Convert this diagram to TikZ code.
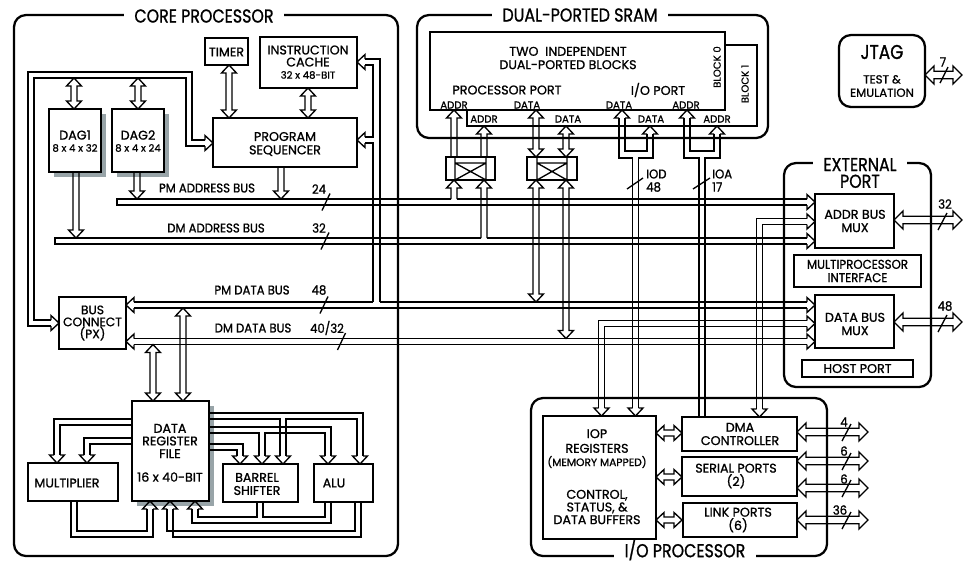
\documentclass[tikz,border=0pt]{standalone}
\usepackage{fontspec}
\setmainfont{Poppins}[FakeBold=1]
\newfontfamily\ttlfont{Poppins}[FakeStretch=0.85, FakeBold=1]
\newfontfamily\cndfont{Poppins}[FakeStretch=0.92, FakeBold=1]
\usetikzlibrary{fit}
\definecolor{shad}{HTML}{98A4A8}
\newcommand{\aSW}{3}
\newcommand{\aHW}{7.5}
\newcommand{\aHL}{8}
\newcommand{\VAboth}[3]{\draw[arr] (#1-\aSW,#2+\aHL) -- (#1-\aHW,#2+\aHL) -- (#1,#2) -- (#1+\aHW,#2+\aHL) -- (#1+\aSW,#2+\aHL) -- (#1+\aSW,#3-\aHL) -- (#1+\aHW,#3-\aHL) -- (#1,#3) -- (#1-\aHW,#3-\aHL) -- (#1-\aSW,#3-\aHL) -- cycle;}
\newcommand{\VAup}[3]{\draw[arr] (#1-\aSW,#3) -- (#1-\aSW,#2+\aHL) -- (#1-\aHW,#2+\aHL) -- (#1,#2) -- (#1+\aHW,#2+\aHL) -- (#1+\aSW,#2+\aHL) -- (#1+\aSW,#3);}
\newcommand{\VAdown}[3]{\draw[arr] (#1-\aSW,#2) -- (#1-\aSW,#3-\aHL) -- (#1-\aHW,#3-\aHL) -- (#1,#3) -- (#1+\aHW,#3-\aHL) -- (#1+\aSW,#3-\aHL) -- (#1+\aSW,#2);}
\newcommand{\HAboth}[3]{\draw[arr] (#2+\aHL,#1-\aSW) -- (#2+\aHL,#1-\aHW) -- (#2,#1) -- (#2+\aHL,#1+\aHW) -- (#2+\aHL,#1+\aSW) -- (#3-\aHL,#1+\aSW) -- (#3-\aHL,#1+\aHW) -- (#3,#1) -- (#3-\aHL,#1-\aHW) -- (#3-\aHL,#1-\aSW) -- cycle;}
\newcommand{\headR}[2]{\draw[arr] (#1-\aHL,#2-\aSW) -- (#1-\aHL,#2-\aHW) -- (#1,#2) -- (#1-\aHL,#2+\aHW) -- (#1-\aHL,#2+\aSW);}
\newcommand{\headL}[2]{\draw[arr] (#1+\aHL,#2-\aSW) -- (#1+\aHL,#2-\aHW) -- (#1,#2) -- (#1+\aHL,#2+\aHW) -- (#1+\aHL,#2+\aSW);}
\newcommand{\headU}[2]{\draw[arr] (#1-\aSW,#2+\aHL) -- (#1-\aHW,#2+\aHL) -- (#1,#2) -- (#1+\aHW,#2+\aHL) -- (#1+\aSW,#2+\aHL);}
\newcommand{\headD}[2]{\draw[arr] (#1-\aSW,#2-\aHL) -- (#1-\aHW,#2-\aHL) -- (#1,#2) -- (#1+\aHW,#2-\aHL) -- (#1+\aSW,#2-\aHL);}
\newcommand{\slsh}[2]{\draw[arr] (#1-4,#2+8.5) -- (#1+4,#2-8.5);}
\newcommand{\bigarrows}{\renewcommand{\aSW}{3.8}\renewcommand{\aHW}{9}\renewcommand{\aHL}{9}}
\begin{document}
\begin{tikzpicture}[x=0.75pt,y=-0.75pt,
 arr/.style={line width=1pt, line join=miter},
 blk/.style={draw, line width=1.1pt, fill=white, inner sep=0pt},
 frm/.style={draw, line width=1.7pt, rounded corners=9pt},
 lab/.style={inner sep=0pt, align=center, font=\fontsize{9.5}{11}\selectfont},
 sml/.style={inner sep=0pt, align=center, font=\fontsize{7.6}{8.5}\selectfont},
 blab/.style={inner sep=0pt, font=\cndfont\fontsize{9.5}{10}\selectfont},
 ttl/.style={fill=white, inner xsep=8pt, inner ysep=1pt, align=center, font=\ttlfont\fontsize{14}{13.5}\selectfont}]
\useasboundingbox (0,0) rectangle (964,562);
\fill[white] (0,0) rectangle (964,562);

% ---------- frames ----------
\draw[frm] (14,15) rectangle (398,556);
\draw[frm] (417,15) rectangle (768,138);
\draw[frm] (784,163) rectangle (931,387);
\draw[frm] (531,398) rectangle (827,556);
\draw[frm] (839,35) rectangle (925,107);
\node[ttl] (tcore) at (204,16) {CORE PROCESSOR};
\node[ttl] (tsram) at (580,15) {DUAL-PORTED SRAM};
\node[ttl, inner ysep=4pt] (text) at (860,173) {EXTERNAL\\[-1pt]PORT};
\node[ttl] (tio) at (685,550) {I/O PROCESSOR};

% ---------- JTAG ----------
\node[inner sep=0pt, font=\ttlfont\fontsize{15}{15}\selectfont] (jtag) at (882,52) {JTAG};
\node[sml, font=\fontsize{8.8}{10}\selectfont] (jtag2) at (882,86) {TEST \&\\EMULATION};

% ---------- core boxes ----------
\fill[shad] (54,114) rectangle (106,177);
\fill[shad] (117,114) rectangle (169,177);
\fill[shad] (137,406) rectangle (214,506);
\node[blk, fit={(205,38) (248,65)}] (timer) {};
\node[blk, fit={(260,37) (357,88)}] (cache) {};
\node[blk, fit={(213,118) (357,167)}] (seq) {};
\node[blk, fit={(49,109) (101,172)}] (dag1) {};
\node[blk, fit={(112,109) (164,172)}] (dag2) {};
\node[blk, fit={(59,297) (126,349)}] (bc) {};
\node[blk, fit={(132,401) (209,501)}] (rf) {};
\node[blk, fit={(28,463) (118,501)}] (mult) {};
\node[blk, fit={(223,464) (298,502)}] (shift) {};
\node[blk, fit={(314,464) (373,502)}] (alu) {};

\node[lab] (tTimer) at (226.5,52) {TIMER};
\node[lab] (tCache1) at (308,50) {INSTRUCTION};
\node[lab] (tCache2) at (308,62) {CACHE};
\node[sml] (tCache3) at (308,75) {32 x 48-BIT};
\node[lab, font=\fontsize{9.5}{10}\selectfont] (tSeq) at (285,144) {PROGRAM\\SEQUENCER};
\node[lab] (tD1) at (75,135) {DAG1};
\node[sml] (tD1b) at (75,148) {8 x 4 x 32};
\node[lab] (tD2) at (138,135) {DAG2};
\node[sml] (tD2b) at (138,148) {8 x 4 x 24};
\node[lab, font=\fontsize{9.2}{9}\selectfont] (tBC) at (92.5,323) {BUS\\CONNECT\\(PX)};
\node[lab, font=\fontsize{9.5}{9.5}\selectfont] (tRF) at (170,441) {DATA\\REGISTER\\FILE};
\node[lab] (tRF2) at (170,477) {16 x 40-BIT};
\node[lab] (tMult) at (67,483) {MULTIPLIER};
\node[lab, font=\fontsize{9.5}{9.8}\selectfont] (tShift) at (257,484) {BARREL\\SHIFTER};
\node[lab] (tAlu) at (334,483) {ALU};

% ---------- SRAM ----------
\node[blk, fit={(467,45) (757,126)}] (blk1) {};
\node[blk, fit={(430,32) (725,110)}] (blk0) {};
\node[lab, font=\fontsize{9.5}{10}\selectfont] (tTwo) at (568,58) {TWO~~INDEPENDENT\\DUAL-PORTED BLOCKS};
\node[lab] (tPP) at (507,90) {PROCESSOR PORT};
\node[lab] (tIOP) at (658,90) {I/O PORT};
\node[sml, rotate=90] (tB0) at (717,67) {BLOCK 0};
\node[sml, rotate=90] (tB1) at (745,84) {BLOCK 1};
\node[sml] (a0) at (454,105) {ADDR};
\node[sml] (d0) at (527,105) {DATA};
\node[sml] (d0b) at (619,105) {DATA};
\node[sml] (a0b) at (686,105) {ADDR};
\node[sml] (a1) at (484,119) {ADDR};
\node[sml] (d1) at (568,119) {DATA};
\node[sml] (d1b) at (651,119) {DATA};
\node[sml] (a1b) at (717,119) {ADDR};

\node[blk, fit={(446,157) (495,180)}] (xb1) {};
\draw[arr] (455,157) -- (455,180) (486,157) -- (486,180) (455,163) -- (486,163) (455,163) -- (486,180) (455,180) -- (486,163);
\node[blk, fit={(527,157) (577,180)}] (xb2) {};
\draw[arr] (537,157) -- (537,180) (567,157) -- (567,180) (537,163) -- (567,163) (537,163) -- (567,180) (537,180) -- (567,163);

% ---------- external port ----------
\node[blk, fit={(815,194) (894,248)}] (amux) {};
\node[blk, fit={(794,255) (921,287)}] (mpi) {};
\node[blk, fit={(815,295) (894,348)}] (dmux) {};
\node[blk, fit={(802,360) (913,377)}] (host) {};
\node[lab, font=\fontsize{9.5}{10}\selectfont] (tAmux) at (855,221) {ADDR BUS\\MUX};
\node[lab, font=\cndfont\fontsize{9.6}{10}\selectfont] (tMpi) at (857.5,271) {MULTIPROCESSOR\\INTERFACE};
\node[lab, font=\fontsize{9.5}{10}\selectfont] (tDmux) at (855,324) {DATA BUS\\MUX};
\node[lab] (tHost) at (857.5,368.5) {HOST PORT};

% ---------- I/O processor ----------
\node[blk, fit={(543,416) (656,539)}] (iop) {};
\node[blk, fit={(682,417) (797,451)}] (dma) {};
\node[blk, fit={(682,457) (797,496)}] (ser) {};
\node[blk, fit={(683,503) (797,537)}] (link) {};
\node[lab, font=\fontsize{9.5}{11}\selectfont] (tIop1) at (597,441) {IOP\\REGISTERS};
\node[sml, font=\fontsize{8}{9}\selectfont] (tIop2) at (597,462) {(MEMORY MAPPED)};
\node[lab, font=\fontsize{9.5}{9.5}\selectfont] (tIop3) at (597,507) {CONTROL,\\STATUS, \&\\DATA BUFFERS};
\node[lab, font=\fontsize{9.5}{10}\selectfont] (tDma) at (740,434) {DMA\\CONTROLLER};
\node[lab, font=\fontsize{9.5}{10}\selectfont] (tSer) at (736,476) {SERIAL PORTS\\(2)};
\node[lab, font=\fontsize{9.5}{10}\selectfont] (tLink) at (738,520) {LINK PORTS\\(6)};

% ---------- core arrows ----------
\VAboth{229}{65}{118}
\VAboth{308}{88}{118}
\VAboth{74}{78}{109}
\VAboth{138}{78}{109}
\VAdown{137}{172}{199}
\VAdown{281}{167}{199}
\VAdown{76}{172}{238}
% loop bus sequencer <-> bus connect
\draw[arr] (205,140) -- (192,140) -- (192,72) -- (28,72) -- (28,326) -- (51,326);
\draw[arr] (205,146) -- (186,146) -- (186,78) -- (34,78) -- (34,320) -- (51,320);
\headR{213}{143}
\headR{59}{323}
% right bus from PM data bus to cache and sequencer
\draw[arr] (380,302) -- (380,59) -- (365,59);
\draw[arr] (365,65) -- (373,65) -- (373,137) -- (365,137);
\draw[arr] (365,143) -- (373,143) -- (373,302);
\headL{357}{62}
\headL{357}{140}

% ---------- main buses ----------
\draw[arr] (451,199) -- (117,199) -- (117,205) -- (807,205);
\draw[arr] (457,199) -- (807,199);
\headR{815}{202}
\draw[arr] (481,238) -- (55,238) -- (55,244) -- (807,244);
\draw[arr] (487,238) -- (807,238);
\headR{815}{241}
\draw[arr] (134,302) -- (373,302);
\draw[arr] (380,302) -- (807,302);
\draw[arr] (134,308) -- (807,308);
\headL{126}{305}
\headR{815}{305}
\draw[arr] (134,338.5) -- (807,338.5);
\draw[arr] (134,344.5) -- (807,344.5);
\headL{126}{341.5}
\headR{815}{341.5}

\node[blab] (lPMA) at (207,188) {PM ADDRESS BUS};
\node[blab] (lDMA) at (216,228) {DM ADDRESS BUS};
\node[blab] (lPMD) at (252,290) {PM DATA BUS};
\node[blab] (lDMD) at (253,328) {DM DATA BUS};
\node[blab] (n24) at (319,189) {24};
\node[blab] (n32) at (319,228) {32};
\node[blab] (n48) at (319,290) {48};
\node[blab] (n4032) at (327,328) {40/32};
\slsh{326}{202}
\slsh{325}{241}
\slsh{324}{305}
\slsh{341.5}{341.5}

% ---------- crossbar arrows ----------
\VAup{454}{180}{199}
\VAup{484}{180}{238}
\VAup{454}{110}{157}
\VAup{484}{126}{157}
\VAboth{536}{110}{157}
\VAboth{566}{126}{157}
\VAboth{536}{180}{302}
\VAboth{566}{180}{338.5}

% ---------- IOD / IOA ----------
\draw[arr] (619,118) -- (619,158) -- (632.5,158) -- (632.5,408);
\draw[arr] (625,118) -- (625,151) -- (647,151) -- (647,134);
\draw[arr] (653,134) -- (653,158) -- (638.5,158) -- (638.5,408);
\headU{622}{110}
\headU{650}{126}
\headD{635.5}{416}
\draw[arr] (684,118) -- (684,158) -- (699,158) -- (699,417);
\draw[arr] (690,118) -- (690,151) -- (714,151) -- (714,134);
\draw[arr] (720,134) -- (720,158) -- (705,158) -- (705,417);
\headU{687}{110}
\headU{717}{126}
\draw[arr] (627,189) -- (643,178);
\draw[arr] (693,189) -- (710,178);
\node[blab, anchor=west] (lIOD) at (646,174) {IOD};
\node[blab, anchor=west] (nIOD) at (646,187) {48};
\node[blab, anchor=west] (lIOA) at (712,174) {IOA};
\node[blab, anchor=west] (nIOA) at (712,187) {17};

% ---------- buses from external port muxes ----------
\draw[arr] (807,218.5) -- (756.5,218.5) -- (756.5,409);
\draw[arr] (807,224.5) -- (762.5,224.5) -- (762.5,409);
\headR{815}{221.5}
\headD{759.5}{417}
\draw[arr] (807,320.5) -- (598.5,320.5) -- (598.5,408);
\draw[arr] (807,326.5) -- (604.5,326.5) -- (604.5,408);
\headR{815}{323.5}
\headD{601.5}{416}

% ---------- register file connections ----------
\VAboth{183}{308}{401}
\VAboth{153}{344.5}{401}
\draw[arr] (132,419) -- (54,419) -- (54,455);
\draw[arr] (132,425) -- (60,425) -- (60,455);
\headD{57}{463}
\draw[arr] (132,438) -- (84,438) -- (84,455);
\draw[arr] (132,444) -- (90,444) -- (90,455);
\headD{87}{463}
\draw[arr] (209,413) -- (363,413) -- (363,456);
\draw[arr] (209,419) -- (280,419) -- (280,456);
\draw[arr] (286,456) -- (286,419) -- (357,419) -- (357,456);
\headD{283}{464}
\headD{360}{464}
\draw[arr] (209,427) -- (331,427) -- (331,456);
\draw[arr] (209,433) -- (259,433) -- (259,456);
\draw[arr] (265,456) -- (265,433) -- (325,433) -- (325,456);
\headD{262}{464}
\headD{328}{464}
\draw[arr] (209,444) -- (243,444) -- (243,456);
\draw[arr] (209,450) -- (237,450) -- (237,456);
\headD{240}{464}
\draw[arr] (71,501) -- (71,537) -- (153,537) -- (153,509);
\draw[arr] (77,501) -- (77,531) -- (147,531) -- (147,509);
\headU{150}{501}
\draw[arr] (361,502) -- (361,537) -- (173,537) -- (173,509);
\draw[arr] (355,502) -- (355,531) -- (167,531) -- (167,509);
\headU{170}{501}
\draw[arr] (331,502) -- (331,523) -- (192,523) -- (192,509);
\draw[arr] (325,502) -- (325,517) -- (263,517) -- (263,502);
\draw[arr] (257,502) -- (257,517) -- (198,517) -- (198,509);
\headU{195}{501}

% ---------- I/O processor arrows ----------
\HAboth{433}{656}{682}
\HAboth{477}{656}{682}
\HAboth{520}{656}{682}
\begingroup
\bigarrows
\HAboth{432}{797}{868}
\HAboth{461}{797}{868}
\HAboth{488}{797}{868}
\HAboth{520}{797}{868}
\HAboth{220}{894}{962}
\HAboth{322}{894}{962}
\HAboth{75}{925}{962}
\endgroup
\draw[arr] (842,441) -- (851,424);
\draw[arr] (842,470) -- (851,453);
\draw[arr] (842,497) -- (851,480);
\draw[arr] (842,529) -- (851,512);
\draw[arr] (938,230) -- (947,213);
\draw[arr] (938,332) -- (947,315);
\draw[arr] (940,83) -- (948,67);
\node[blab] (e4) at (844,422) {4};
\node[blab] (e6a) at (844,451) {6};
\node[blab] (e6b) at (844,479) {6};
\node[blab] (e36) at (840,510) {36};
\node[blab] (e32) at (945,204) {32};
\node[blab] (e48) at (945,306) {48};
\node[blab] (e7) at (943,62) {7};
\end{tikzpicture}
\end{document}
